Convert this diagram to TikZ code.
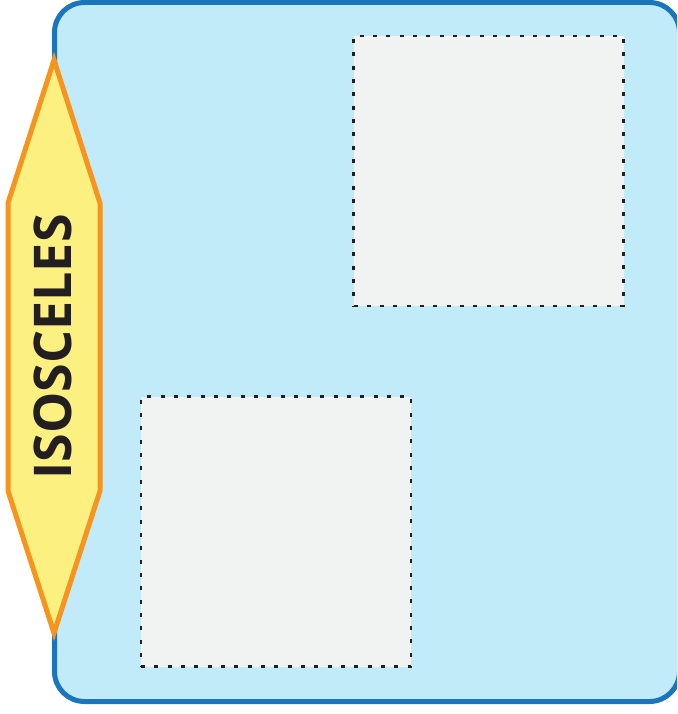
\documentclass[tikz,border=0pt]{standalone}
\usepackage{fontspec}
\setmainfont{Open Sans}
\definecolor{panelfill}{HTML}{C2EBFA}
\definecolor{panelline}{HTML}{1B75BC}
\definecolor{tagfill}{HTML}{FCF080}
\definecolor{tagline}{HTML}{F7941D}
\definecolor{boxfill}{HTML}{F1F2F2}
\definecolor{inkdark}{HTML}{231F20}
\tikzset{
  answerbox/.style={draw=inkdark, fill=boxfill, line width=2.8pt,
    dash pattern=on 4pt off 9.33pt, minimum width=270pt, minimum height=270pt,
    inner sep=0pt, outer sep=0pt},
  panel/.style={draw=panelline, fill=panelfill, line width=5pt, rounded corners=30pt},
  tag/.style={draw=tagline, fill=tagfill, line width=5pt, line join=miter},
  tagtext/.style={font=\bfseries\fontsize{52}{52}\selectfont, text=inkdark, rotate=90, inner sep=0pt}
}
\begin{document}
\begin{tikzpicture}[x=1pt,y=-1pt]
\useasboundingbox (0,0) rectangle (677,714);
\begin{scope}
\clip (0,0) rectangle (677,714);
\draw[panel] (54.5,2.5) rectangle (679.5,701.5);
\end{scope}
\node[answerbox] (boxA) at (488.5,171) {};
\node[answerbox] (boxB) at (276,531.5) {};
\draw[tag] (54,60) -- (100,203) -- (100,491) -- (54,633) -- (8,491) -- (8,203) -- cycle;
\node[tagtext] (label) at (53,347) {ISOSCELES};
\end{tikzpicture}
\end{document}
